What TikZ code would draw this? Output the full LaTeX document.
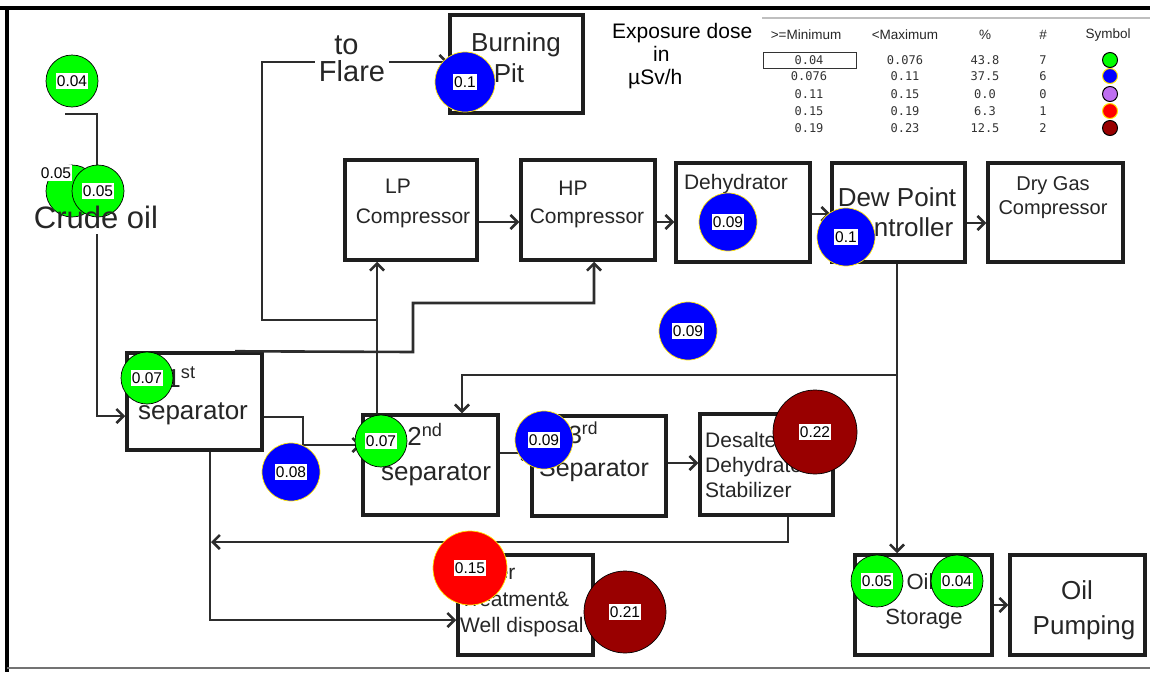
\documentclass[tikz,border=0pt]{standalone}
\usepackage{fontspec}
\setmainfont{Liberation Sans}
\newfontfamily\tabfont{DejaVu Sans Mono}
\usepackage{xcolor}
\usepackage{tikz}
\usetikzlibrary{positioning,arrows.meta,calc}
\definecolor{pipecol}   {RGB}{45,45,45}
\definecolor{boxcol}    {RGB}{30,30,30}
\definecolor{dosegreen} {RGB}{0,255,0}
\definecolor{doseblue}  {RGB}{0,0,255}
\definecolor{dosered}   {RGB}{255,0,0}
\definecolor{dosemaroon}{RGB}{153,0,0}
\definecolor{doseviolet}{RGB}{190,110,240}
\definecolor{rimyellow} {RGB}{255,230,0}
\newcommand{\fs}[2]{\fontsize{#1}{#2}\selectfont}

\begin{document}
\begin{tikzpicture}[
  x=1pt,y=-1pt,
  unit/.style={rectangle,draw=boxcol,line width=3.5pt,fill=white,inner sep=0pt},
  txt/.style ={inner sep=0pt,align=center,text=black!85},
  pipe/.style={draw=pipecol,line width=2.6pt},
  flow/.style={pipe,-{Straight Barb[length=7pt,width=14pt]}},
  dose/.style 2 args={circle,fill=#1,draw=#2,line width=0.7pt,inner sep=0pt},
  val/.style ={fill=white,inner xsep=1pt,inner ysep=3pt,font=\fs{15.5}{15.5}},
  hdr/.style ={inner sep=0pt,text=black!85,font=\fs{13.5}{14}},
  cell/.style={inner sep=0pt,text=black!80,font=\tabfont\fs{12}{12}}
]
\useasboundingbox (0,0) rectangle (1150,672);

% frame
\draw[line width=4pt,black] (0,8) -- (1150,8);
\draw[line width=4pt,black] (7,8) -- (7,672);
\draw[line width=2.5pt,black!55] (7,668) -- (1150,668);

% process units
\node[unit,minimum width=133pt,minimum height=98pt]  (pit)   at (516.5,64)  {};
\node[unit,minimum width=132pt,minimum height=100pt] (lp)    at (411,210)   {};
\node[unit,minimum width=134pt,minimum height=100pt] (hp)    at (588,210)   {};
\node[unit,minimum width=134pt,minimum height=99pt]  (dehy)  at (743,212.5) {};
\node[unit,minimum width=133pt,minimum height=99pt]  (dew)   at (898.5,212.5) {};
\node[unit,minimum width=135pt,minimum height=99pt]  (dry)   at (1055.5,212.5) {};
\node[unit,minimum width=135pt,minimum height=97pt]  (sep1)  at (194.5,401.5) {};
\node[unit,minimum width=135pt,minimum height=100pt] (sep2)  at (430.5,465)  {};
\node[unit,minimum width=134pt,minimum height=100pt] (sep3)  at (599,466)    {};
\node[unit,minimum width=133pt,minimum height=101pt] (desal) at (766.5,464.5) {};
\node[unit,minimum width=135pt,minimum height=100pt] (water) at (525.5,605)  {};
\node[unit,minimum width=137pt,minimum height=100pt] (store) at (923.5,605)  {};
\node[unit,minimum width=135pt,minimum height=100pt] (pump)  at (1077.5,605) {};

% junctions
\coordinate (feed)    at (65,114);
\coordinate (flare-j) at (377,320);
\coordinate (dew-j)   at (897,375);
\coordinate (recycle) at (211,542);

% streams
\draw[pipe] (feed) -- (97,114) -- (97,196);
\draw[flow] (97,234) -- (97,416) -- (sep1.west |- 0,416);
\draw[flow] (sep2.north -| 377,0) -- (lp.south -| 377,0);
\draw[flow] (flare-j) -- (262,320) -- (262,62) -- (pit.west |- 0,62);
\draw[flow] (sep1.north -| 235,0) -- (413,352) -- (413,303) -- (594,303) -- (hp.south -| 594,0);
\draw[flow] (sep1.east |- 0,417) -- (303,417) -- (303,445) -- (sep2.west |- 0,445);
\draw[flow] (sep2.east |- 0,453) -- (sep3.west |- 0,453);
\draw[flow] (sep3.east |- 0,463) -- (desal.west |- 0,463);
\draw[flow] (desal.south -| 788,0) -- (788,542) -- (recycle);
\draw[flow] (sep1.south -| 210,0) -- (210,620) -- (water.west |- 0,620);
\draw[flow] (lp.east |- 0,222) -- (hp.west |- 0,222);
\draw[flow] (hp.east |- 0,222) -- (dehy.west |- 0,222);
\draw[flow] (dehy.east |- 0,214) -- (dew.west |- 0,214);
\draw[flow] (dew.east |- 0,223) -- (dry.west |- 0,223);
\draw[flow] (dew.south -| 897,0) -- (store.north -| 897,0);
\draw[flow] (dew-j) -- (462,375) -- (sep2.north -| 462,0);
\draw[flow] (store.east |- 0,605) -- (pump.west |- 0,605);

% unit labels
\node[txt,fill=white,inner xsep=4pt,font=\fs{29}{27}] (flare-t) at (352,59) {to\hspace*{11pt}\\Flare};
\node[txt,font=\fs{26}{31}] (pit-t)  at (516,58)  {Burning\\Pit\hspace*{14pt}};
\node[txt,font=\fs{21}{30}] (lp-t)   at (413,203) {LP\hspace*{30pt}\\Compressor};
\node[txt,font=\fs{21}{28}] (hp-t)   at (587,204) {HP\hspace*{28pt}\\Compressor};
\node[txt,font=\fs{21}{25}] (dehy-t) at (736,184) {Dehydrator};
\node[txt,font=\fs{26}{30}] (dew-t)  at (897,212) {Dew Point\\Controller};
\node[txt,font=\fs{20}{24}] (dry-t)  at (1053,198) {Dry Gas\\Compressor};
\node[txt,font=\fs{26}{32}] (sep1-t) at (193,396) {1\textsuperscript{st}\hspace*{24pt}\\separator};
\node[txt,font=\fs{26}{35}] (sep2-t) at (436,455) {2\textsuperscript{nd}\hspace*{22pt}\\separator};
\node[txt,font=\fs{25}{33}] (sep3-t) at (594,452) {3\textsuperscript{rd}\hspace*{22pt}\\Separator};
\node[txt,align=left,anchor=west,font=\fs{21}{25}] (desal-t) at (705,465) {Desalter\\Dehydrator\\Stabilizer};
\node[txt,align=left,anchor=west,font=\fs{21}{26.5}] (water-t) at (460,601) {Water\\Treatment\&\\Well disposal};
\node[txt,font=\fs{22}{35}] (store-t) at (924,601) {Oil\hspace*{8pt}\\Storage};
\node[txt,font=\fs{26}{35}] (pump-t)  at (1084,610) {Oil\hspace*{14pt}\\Pumping};

% dose markers
\node[dose={dosegreen}{black},minimum size=52pt] (m0) at (72,191) {};
\node[val] (v0) at (56,173) {0.05};
\foreach \px/\py/\d/\c/\r/\v [count=\i] in {
  72/81/52/dosegreen/black/0.04,
  98/191/52/dosegreen/black/0.05,
  465/82/60/doseblue/rimyellow/0.1,
  728/222/58/doseblue/rimyellow/0.09,
  846/237/58/doseblue/rimyellow/0.1,
  688/331/58/doseblue/rimyellow/0.09,
  147/378/52/dosegreen/black/0.07,
  291/472/58/doseblue/rimyellow/0.08,
  381/441/52/dosegreen/black/0.07,
  544/440/58/doseblue/rimyellow/0.09,
  815/432/84/dosemaroon/black/0.22,
  470/568/74/dosered/rimyellow/0.15,
  625/612/82/dosemaroon/black/0.21,
  877/581/52/dosegreen/black/0.05,
  957/581/52/dosegreen/black/0.04}
{
  \node[dose={\c}{\r},minimum size=\d pt] (m\i) at (\px,\py) {};
  \node[val] (v\i) at (m\i) {\v};
}
\node[txt,font=\fs{31}{31}] (crude) at (96,217) {Crude oil};

% legend
\node[txt,align=left,anchor=west,text=black,font=\fs{21}{23}] (expo) at (612,56)
  {Exposure dose\\\hspace*{41pt}in\\\hspace*{16pt}µSv/h};
\draw[black!25,line width=1.2pt] (762,18) -- (1150,18);
\foreach \hx/\htxt [count=\i] in {806/{>=Minimum},905/{<Maximum},985/{\%},1043/{\#},1108/{Symbol}}
  \node[hdr] (h\i) at (\hx,35) {\htxt};
\node[draw=black!80,line width=1pt,minimum width=93pt,minimum height=16pt,inner sep=0pt] (sel) at (809.5,60) {};
\foreach \ry/\a/\b/\p/\n/\c/\r [count=\i] in {
  60/0.04/0.076/43.8/7/dosegreen/black,
  76/0.076/0.11/37.5/6/doseblue/rimyellow,
  94/0.11/0.15/0.0/0/doseviolet/black,
  111/0.15/0.19/6.3/1/dosered/rimyellow,
  128/0.19/0.23/12.5/2/dosemaroon/black}
{
  \node[cell] (a\i) at (809,\ry)  {\a};
  \node[cell] (b\i) at (905,\ry)  {\b};
  \node[cell] (p\i) at (985,\ry)  {\p};
  \node[cell] (n\i) at (1043,\ry) {\n};
  \node[dose={\c}{\r},minimum size=15pt,line width=1pt] (s\i) at (1110,\ry) {};
}
\end{tikzpicture}
\end{document}
